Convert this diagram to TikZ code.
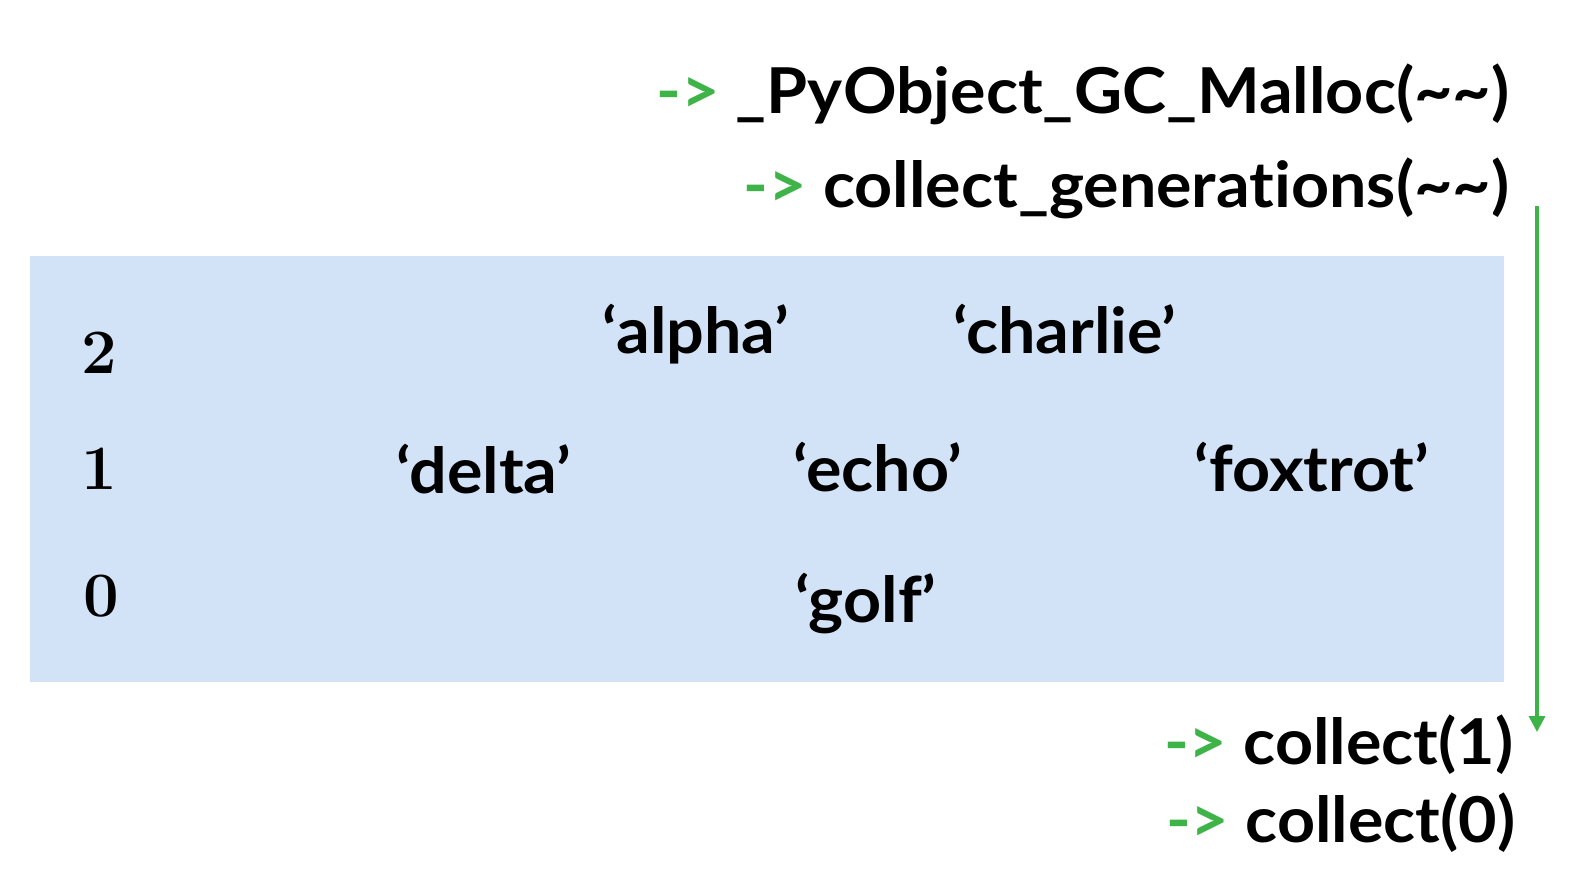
\documentclass[tikz,border=0pt]{standalone}
\usepackage{fontspec}
\setsansfont{Lato}[FakeStretch=1.05,Ligatures=NoCommon]
\usetikzlibrary{arrows.meta}
\definecolor{callgreen}{RGB}{62,180,72}
\definecolor{genblue}{RGB}{211,227,247}
\newcommand{\callarrow}{{\color{callgreen}->}\ }

\begin{document}
\begin{tikzpicture}[x=1cm,y=-1cm,
	call/.style={font=\sffamily\bfseries\fontsize{18}{21}\selectfont,anchor=base east,inner sep=0pt},
	obj/.style={font=\sffamily\bfseries\fontsize{18}{21}\selectfont,anchor=base,inner sep=0pt},
	gen/.style={font=\bfseries\fontsize{18}{20}\selectfont,anchor=base,inner sep=0pt}]
	\useasboundingbox (0,0) rectangle (15.82,8.88);
	% generations
	\fill[genblue] (0.30,2.56) rectangle (15.04,6.82);
	\node[gen] (g2) at (0.99,3.73) {2};
	\node[gen] (g1) at (0.99,4.89) {1};
	\node[gen] (g0) at (1.01,6.16) {0};
	% objects
	\node[obj] (alpha) at (6.96,3.53) {‘alpha’};
	\node[obj] (charlie) at (10.65,3.53) {‘charlie’};
	\node[obj] (delta) at (4.84,4.93) {‘delta’};
	\node[obj] (echo) at (8.78,4.91) {‘echo’};
	\node[obj] (foxtrot) at (13.12,4.91) {‘foxtrot’};
	\node[obj] (golf) at (8.66,6.22) {‘golf’};
	% call chain
	\node[call] (malloc) at (15.10,1.13) {\callarrow\_PyObject\_GC\_Malloc(\textasciitilde\textasciitilde)};
	\node[call] (gens) at (15.10,2.07) {\callarrow collect\_generations(\textasciitilde\textasciitilde)};
	\node[call] (col1) at (15.14,7.64) {\callarrow collect(1)};
	\node[call] (col0) at (15.16,8.42) {\callarrow collect(0)};
	\coordinate (top) at (15.37,2.06);
	\coordinate (bot) at (15.37,7.32);
	\draw[callgreen,line width=1pt,-{Triangle[width=4.5pt,length=4.5pt]}] (top) -- (bot);
\end{tikzpicture}
\end{document}
